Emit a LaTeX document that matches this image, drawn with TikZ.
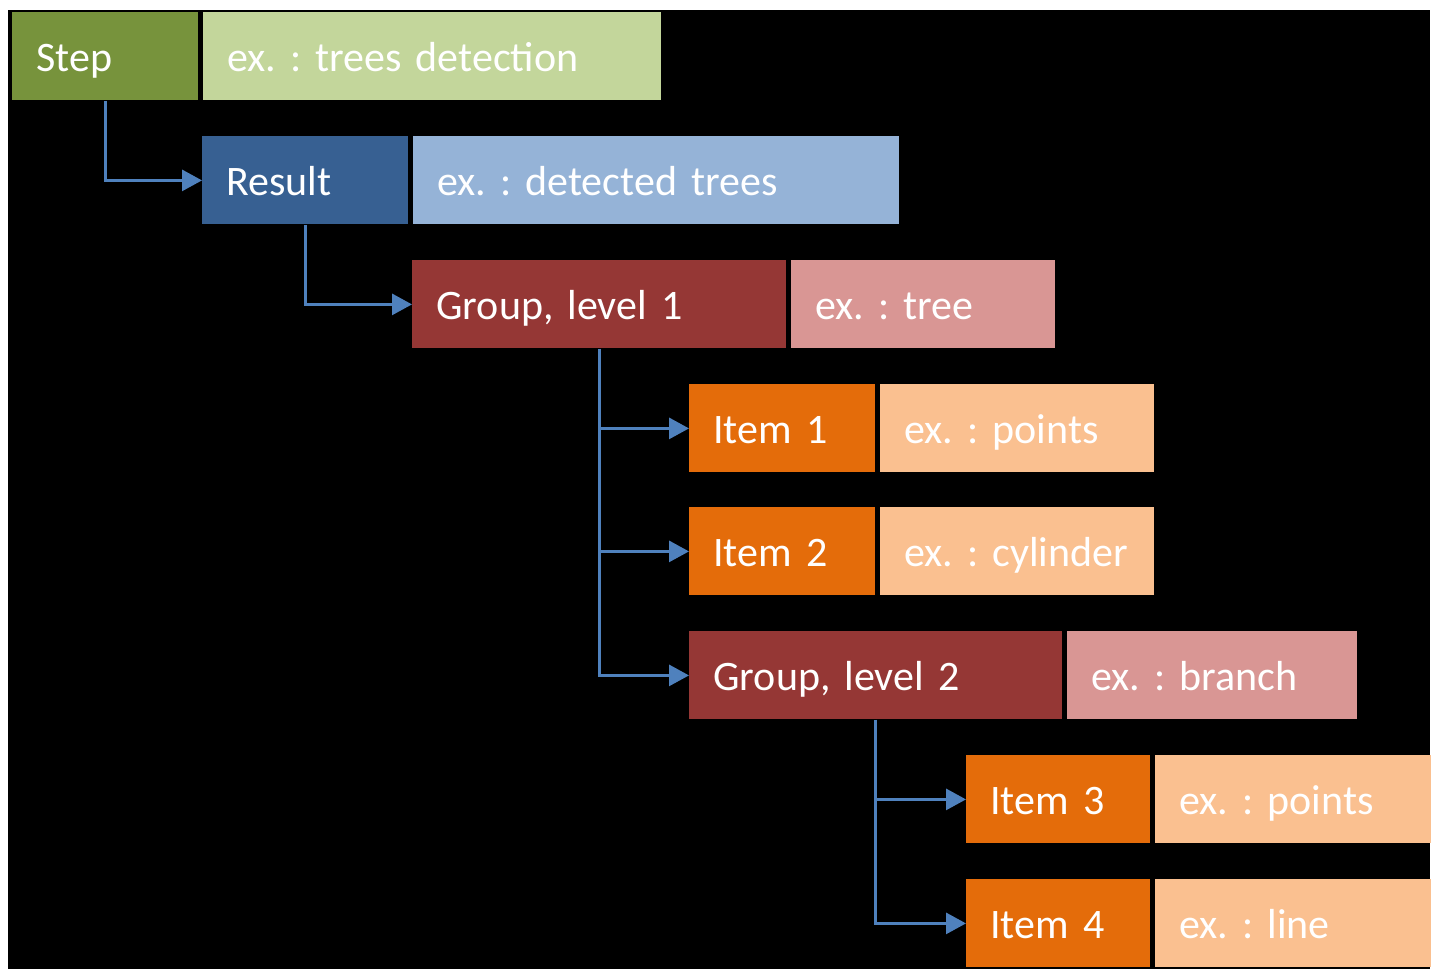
\documentclass[tikz,border=0pt]{standalone}
\usepackage{fontspec}
\setmainfont{Carlito}
\usetikzlibrary{positioning,arrows.meta}
\definecolor{stepdark}{HTML}{77933C}
\definecolor{steplight}{HTML}{C3D69B}
\definecolor{resdark}{HTML}{376092}
\definecolor{reslight}{HTML}{95B3D7}
\definecolor{grpdark}{HTML}{953735}
\definecolor{grplight}{HTML}{D99694}
\definecolor{itemdark}{HTML}{E46C0A}
\definecolor{itemlight}{HTML}{FAC090}
\definecolor{linkblue}{HTML}{4F81BD}
\begin{document}
\begin{tikzpicture}[x=0.5pt,y=-0.5pt,node distance=2pt]
  \tikzstyle{box}=[anchor=north west,minimum height=44pt,inner xsep=12pt,
  inner ysep=0pt,text=white,align=left,text height=18pt,text depth=3pt,
  font=\fontsize{21}{24}\selectfont\frenchspacing]
  \tikzstyle{link}=[draw=linkblue,line width=1.5pt,-{Triangle[length=10pt,width=10.5pt]}]

  \fill[white] (0,0) rectangle (1437,969);
  \fill[black] (8,10) rectangle (1430,969);

  \node[box,fill=stepdark,text width=69pt] (step) at (12,12) {Step};
  \node[box,fill=steplight,text width=205pt,right=of step] (stepex) {ex. : trees detection};

  \node[box,fill=resdark,text width=79pt] (result) at (202,136) {Result};
  \node[box,fill=reslight,text width=219pt,right=of result] (resultex) {ex. : detected trees};

  \node[box,fill=grpdark,text width=163pt] (grpone) at (412,260) {Group, level 1};
  \node[box,fill=grplight,text width=108pt,right=of grpone] (grponeex) {ex. : tree};

  \node[box,fill=itemdark,text width=69pt] (itemone) at (689,384) {Item 1};
  \node[box,fill=itemlight,text width=113pt,right=of itemone] (itemoneex) {ex. : points};

  \node[box,fill=itemdark,text width=69pt] (itemtwo) at (689,507) {Item 2};
  \node[box,fill=itemlight,text width=113pt,right=of itemtwo] (itemtwoex) {ex. : cylinder};

  \node[box,fill=grpdark,text width=162.5pt] (grptwo) at (689,631) {Group, level 2};
  \node[box,fill=grplight,text width=121pt,right=of grptwo] (grptwoex) {ex. : branch};

  \node[box,fill=itemdark,text width=68pt] (itemthree) at (966,755) {Item 3};
  \node[box,fill=itemlight,text width=114pt,right=of itemthree] (itemthreeex) {ex. : points};

  \node[box,fill=itemdark,text width=68pt] (itemfour) at (966,879) {Item 4};
  \node[box,fill=itemlight,text width=114pt,right=of itemfour] (itemfourex) {ex. : line};

  % links
  \draw[link] (step.south) |- (result.west);
  \draw[link] (result.south) |- (grpone.west);
  \draw[link] (grpone.south) |- (itemone.west);
  \draw[link] (grpone.south) |- (itemtwo.west);
  \draw[link] (grpone.south) |- (grptwo.west);
  \draw[link] (grptwo.south) |- (itemthree.west);
  \draw[link] (grptwo.south) |- (itemfour.west);
\end{tikzpicture}
\end{document}
